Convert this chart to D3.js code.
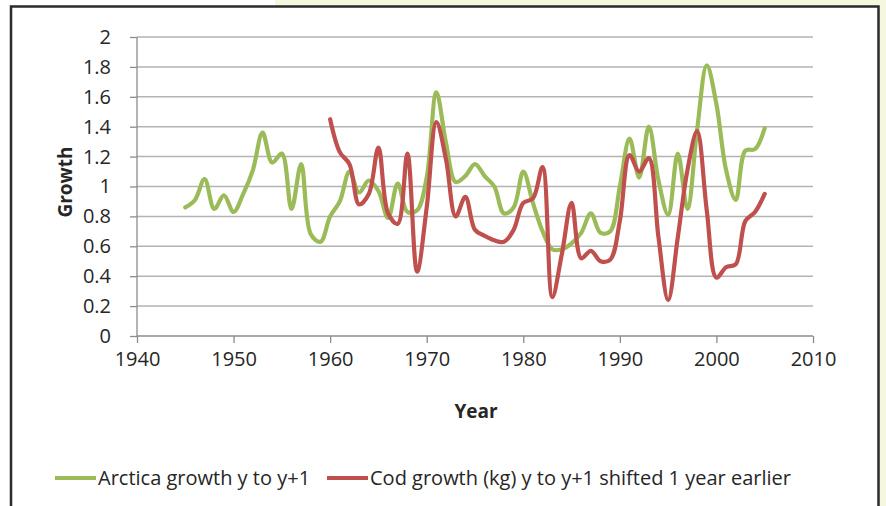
<html>
<head>
<meta charset="utf-8"/>
<script src="https://d3js.org/d3.v7.min.js"></script>
<style type="text/css">
body {
  margin: 0;
  overflow: hidden;
  background: #fff;
  font-family: "Open Sans", Lato, sans-serif;
}
</style>
</head>
<body>
<div id="v"></div>
<script type="text/javascript">
// arctica growth y to y+1, 1945..2005
var arcticaYears = d3.range(1945, 2006);
var arcticaValues = [0.86, 0.91, 1.05, 0.85, 0.94, 0.83, 0.95, 1.11, 1.36, 1.16, 1.22, 0.85, 1.15, 0.68, 0.63,
  0.8, 0.9, 1.1, 0.96, 1.04, 0.97, 0.79, 1.02, 0.83, 0.84, 1.06, 1.63, 1.29, 1.03, 1.07,
  1.15, 1.07, 1.0, 0.82, 0.86, 1.1, 0.89, 0.7, 0.58, 0.58, 0.62, 0.69, 0.82, 0.69, 0.7,
  1.0, 1.32, 1.06, 1.4, 1.04, 0.81, 1.22, 0.85, 1.38, 1.81, 1.55, 1.11, 0.91, 1.24, 1.25, 1.39];
// cod growth (kg) y to y+1 shifted 1 year earlier, 1960..2005
var codYears = d3.range(1960, 2006);
var codValues = [1.45, 1.23, 1.15, 0.88, 0.95, 1.26, 0.82, 0.75, 1.22, 0.43, 0.86, 1.43, 1.18, 0.8, 0.93,
  0.71, 0.67, 0.64, 0.63, 0.71, 0.89, 0.92, 1.13, 0.26, 0.55, 0.89, 0.52, 0.57, 0.5, 0.51,
  0.77, 1.21, 1.1, 1.19, 0.66, 0.24, 0.66, 1.11, 1.37, 0.84, 0.39, 0.46, 0.48, 0.77, 0.83, 0.95];
var yTicks = [0, 0.2, 0.4, 0.6, 0.8, 1, 1.2, 1.4, 1.6, 1.8, 2];
var xTicks = [1940, 1950, 1960, 1970, 1980, 1990, 2000, 2010];
var seriesNames = ["Arctica growth y to y+1", "Cod growth (kg) y to y+1 shifted 1 year earlier"];
var seriesColors = ["#9bbb59", "#c0504d"];

var width = 886, height = 506;
var svg = d3.select("#v").append("svg")
  .attr("width", width)
  .attr("height", height);

// page background strips and chart frame
svg.append("rect").attr("x", 275).attr("y", 0).attr("width", width - 275).attr("height", 6).attr("fill", "#f5f7de");
svg.append("rect").attr("x", 879).attr("y", 0).attr("width", 7).attr("height", height).attr("fill", "#f5f7de");
svg.append("path")
  .attr("d", "M11," + height + "V6.5H878.5V" + height)
  .attr("fill", "none")
  .attr("stroke", "#2b2b2b")
  .attr("stroke-width", 2.5);

var x = d3.scaleLinear().domain([1940, 2010]).range([137, 813]);
var y = d3.scaleLinear().domain([0, 2]).range([336, 37]);

// gridlines
svg.append("g")
  .selectAll("line")
  .data(yTicks.slice(1))
  .enter().append("line")
  .attr("x1", x(1940)).attr("x2", x(2010))
  .attr("y1", function(d) { return y(d); })
  .attr("y2", function(d) { return y(d); })
  .attr("stroke", "#b3b3b3")
  .attr("stroke-width", 1.5);

var yAxis = svg.append("g")
  .attr("transform", "translate(" + x(1940) + ",0)")
  .call(d3.axisLeft(y).tickValues(yTicks).tickSize(7).tickPadding(19).tickFormat(d3.format("")));
var xAxis = svg.append("g")
  .attr("transform", "translate(0," + y(0) + ")")
  .call(d3.axisBottom(x).tickValues(xTicks).tickSize(7).tickPadding(9).tickFormat(d3.format("d")));

[yAxis, xAxis].forEach(function(a) {
  a.select(".domain").attr("stroke", "#8c8c8c").attr("stroke-width", 1.3);
  a.selectAll(".tick line").attr("stroke", "#8c8c8c").attr("stroke-width", 1.3);
  a.selectAll("text")
    .attr("fill", "#262626")
    .style("font-family", "'Open Sans', Lato, sans-serif")
    .style("font-size", "20px");
});
yAxis.select(".domain").attr("d", "M0," + y(2) + "V" + y(0));
xAxis.select(".domain").attr("d", "M" + x(1940) + ",0H" + x(2010));

svg.append("text")
  .attr("transform", "translate(72,182) rotate(-90)")
  .attr("text-anchor", "middle")
  .style("font-size", "19px")
  .style("font-weight", "bold")
  .attr("fill", "#262626")
  .text("Growth");

svg.append("text")
  .attr("x", 476).attr("y", 418)
  .attr("text-anchor", "middle")
  .style("font-size", "19px")
  .style("font-weight", "bold")
  .attr("fill", "#262626")
  .text("Year");

var line = d3.line()
  .x(function(d) { return x(d[0]); })
  .y(function(d) { return y(d[1]); })
  .curve(d3.curveCatmullRom.alpha(0.5));

svg.append("path")
  .datum(d3.zip(arcticaYears, arcticaValues))
  .attr("d", line)
  .attr("fill", "none")
  .attr("stroke", seriesColors[0])
  .attr("stroke-width", 4.2)
  .attr("stroke-linejoin", "round")
  .attr("stroke-linecap", "round");

svg.append("path")
  .datum(d3.zip(codYears, codValues))
  .attr("d", line)
  .attr("fill", "none")
  .attr("stroke", seriesColors[1])
  .attr("stroke-width", 4.2)
  .attr("stroke-linejoin", "round")
  .attr("stroke-linecap", "round");

// legend
var legendX = [55, 327];
var legend = svg.append("g")
  .selectAll("g")
  .data(seriesNames)
  .enter().append("g")
  .attr("transform", function(d, i) { return "translate(" + legendX[i] + ",478)"; });
legend.append("line")
  .attr("x1", 0).attr("x2", 41)
  .attr("stroke", function(d, i) { return seriesColors[i]; })
  .attr("stroke-width", 4);
legend.append("text")
  .attr("x", 43).attr("y", 7)
  .style("font-size", "20px")
  .attr("fill", "#262626")
  .text(function(d) { return d; });
</script>
</body>
</html>
